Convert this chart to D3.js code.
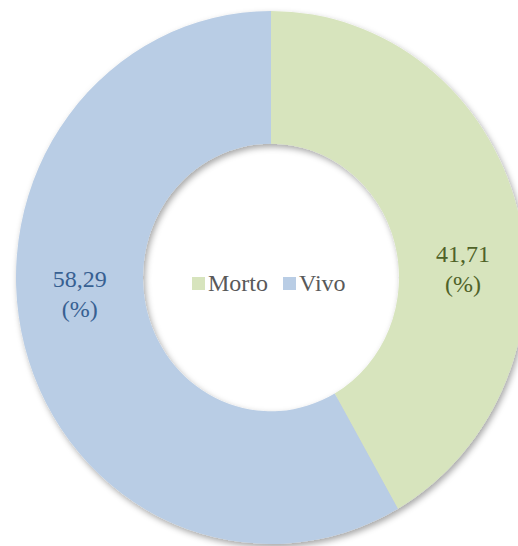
<!DOCTYPE html>
<html>
<head>
<meta charset="utf-8">
<script src="https://cdn.jsdelivr.net/npm/d3@7"></script>
<style>
  body { margin: 0; background: #fff; }
  svg { display: block; }
  text { font-family: "Liberation Serif", "Times New Roman", "DejaVu Serif", serif; }
</style>
</head>
<body>
<div id="chart"></div>
<script>
// data
var categories = ["Morto", "Vivo"];
var values = [41.71, 58.29];
var labels = ["41,71", "58,29"];

var svgWidth = 518;
var svgHeight = 546;
var cx = 271, cy = 277.5;
var outerR = 255, innerR = 128;
var yStretch = 1.045; // the original picture is a little taller than wide

var fillColors = ["#d7e4bd", "#b9cde5"];
var textColors = ["#4f6228", "#376092"];

var svg = d3.select("#chart").append("svg")
  .attr("width", svgWidth)
  .attr("height", svgHeight);

// soft shadow like the office chart
var defs = svg.append("defs");
defs.append("filter")
  .attr("id", "shadow")
  .attr("x", "-10%").attr("y", "-10%")
  .attr("width", "120%").attr("height", "120%")
  .append("feDropShadow")
  .attr("dx", 2).attr("dy", 3)
  .attr("stdDeviation", 3)
  .attr("flood-color", "#000")
  .attr("flood-opacity", 0.35);

var chartGroup = svg.append("g")
  .attr("transform", `translate(${cx},${cy})`);

var pie = d3.pie().sort(null).value(d => d);
var arcs = pie(values);

var arc = d3.arc().innerRadius(innerR).outerRadius(outerR);

chartGroup.append("g")
  .attr("transform", `scale(1,${yStretch})`)
  .attr("filter", "url(#shadow)")
  .selectAll("path")
  .data(arcs)
  .enter()
  .append("path")
  .attr("d", arc)
  .attr("fill", (d, i) => fillColors[i]);

// labels sit in the ring, a bit off the centroid (as the original does)
var labelAngles = [Math.PI * 88 / 180, Math.PI * 265 / 180];
var labelR = 192;

var lab = chartGroup.selectAll("text.lab")
  .data(arcs)
  .enter()
  .append("text")
  .attr("class", "lab")
  .attr("text-anchor", "middle")
  .attr("font-size", 24)
  .attr("fill", (d, i) => textColors[i])
  .attr("transform", (d, i) => {
    var a = labelAngles[i];
    return `translate(${labelR * Math.sin(a)},${-labelR * Math.cos(a) * yStretch})`;
  });

lab.append("tspan").attr("x", 0).attr("dy", -8).text((d, i) => labels[i]);
lab.append("tspan").attr("x", 0).attr("dy", 30).text("(%)");

// legend in the hole
var legend = chartGroup.append("g")
  .attr("transform", "translate(-79,13.5)");

var xPos = 0;
categories.forEach(function (c, i) {
  var g = legend.append("g").attr("transform", `translate(${xPos},0)`);
  g.append("rect")
    .attr("x", 0).attr("y", -14)
    .attr("width", 13).attr("height", 13)
    .attr("fill", fillColors[i]);
  var t = g.append("text")
    .attr("x", 16)
    .attr("font-size", 24)
    .attr("fill", "#595959")
    .text(c);
  xPos += 16 + t.node().getComputedTextLength() + 15;
});
</script>
</body>
</html>
